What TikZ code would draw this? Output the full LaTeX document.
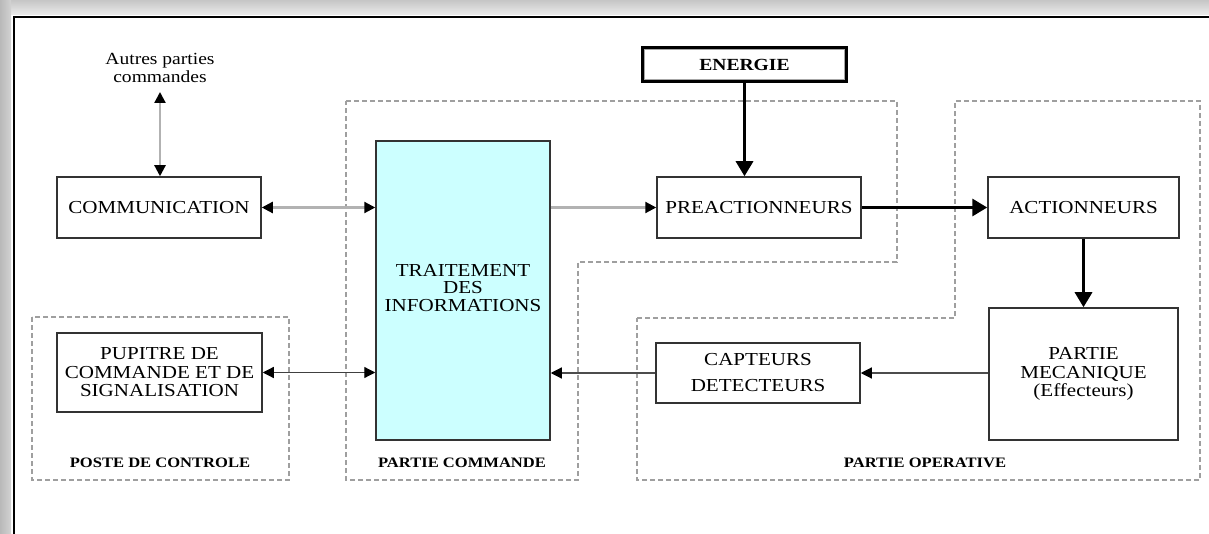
\documentclass[tikz,border=0pt]{standalone}
\usepackage{fontspec}
\setmainfont{Liberation Serif}[FakeStretch=1.15]
\usetikzlibrary{arrows.meta,positioning}
\definecolor{cyanfill}{HTML}{CCFFFF}
\tikzset{
  box/.style={draw=black!80, line width=1.5pt, fill=white, align=center, inner sep=0pt,
    font=\fontsize{18.3}{18.5}\selectfont},
  zone/.style={draw=gray!75, line width=1.6pt, dash pattern=on 5pt off 3pt},
  lab/.style={font=\bfseries\fontsize{14.4}{16}\selectfont, inner sep=0pt},
  grayconn/.style={draw=gray!60, line width=2.2pt},
  tip/.style={-{Triangle[length=11pt,width=11pt,color=black]}},
  dtip/.style={{Triangle[length=11pt,width=11pt,color=black]}-{Triangle[length=11pt,width=11pt,color=black]}},
  fat/.style={draw=black, line width=3.2pt, -{Triangle[length=15pt,width=17pt]}}
}
\begin{document}
\begin{tikzpicture}[x=1pt,y=-1pt]
\useasboundingbox (0,0) rectangle (1209,534);
% background frame and shadow
\fill[white] (0,0) rectangle (1209,534);
\shade[top color=gray!45, bottom color=gray!15] (0,0) rectangle (1209,15);
\shade[left color=gray!55, right color=gray!35] (0,0) rectangle (11,534);
\draw[black, line width=1.5pt] (14,540) -- (14,17) -- (1215,17);

% zones
\draw[zone] (346,101) -- (897,101) -- (897,262) -- (578,262) -- (578,480) -- (346,480) -- cycle;
\draw[zone] (32,317) rectangle (289,480);
\draw[zone] (637,318) -- (955,318) -- (955,101) -- (1200,101) -- (1200,480) -- (637,480) -- cycle;

% zone labels
\node[lab] (lpc) at (160,463) {POSTE DE CONTROLE};
\node[lab] (lcmd) at (462,463) {PARTIE COMMANDE};
\node[lab] (lop) at (925,463) {PARTIE OPERATIVE};

% nodes
\node[font=\fontsize{17}{18}\selectfont, align=center, inner sep=0pt] (autres) at (160,68) {Autres parties\\commandes};
\node[box, minimum width=204pt, minimum height=61pt] (comm) at (159,207.5) {COMMUNICATION};
\node[box, minimum width=205pt, minimum height=79pt] (pup) at (159.5,372.5) {PUPITRE DE\\COMMANDE ET DE\\SIGNALISATION};
\node[box, fill=cyanfill, minimum width=174pt, minimum height=299pt] (trait) at (463,290.5) {};
\node[align=center, inner sep=0pt, font=\fontsize{18.3}{17.5}\selectfont] (traittxt) at (463,288) {TRAITEMENT\\DES\\INFORMATIONS};
\node[draw=black, line width=4.5pt, fill=white, minimum width=203pt, minimum height=33pt, inner sep=0pt,
  font=\bfseries\fontsize{17}{19}\selectfont] (ener) at (744.5,64.5) {ENERGIE};
\draw[gray!70, line width=1pt] ([shift={(3.5,3.5)}]ener.north west) rectangle ([shift={(-3.5,-3.5)}]ener.south east);
\node[box, minimum width=204pt, minimum height=61pt] (pre) at (759,207.5) {PREACTIONNEURS};
\node[box, minimum width=191pt, minimum height=61pt] (act) at (1083.5,207.5) {ACTIONNEURS};
\node[box, minimum width=189pt, minimum height=132pt] (meca) at (1083.5,374) {PARTIE\\MECANIQUE\\(Effecteurs)};
\node[box, minimum width=204pt, minimum height=60pt, font=\fontsize{18.3}{26}\selectfont] (capt) at (758,373) {CAPTEURS\\DETECTEURS};

% connectors
\coordinate (aut) at (160,92);
\draw[grayconn, dtip] (aut) -- (aut |- comm.north);
\draw[grayconn, dtip] (comm.east) -- (comm.east -| trait.west);
\draw[draw=black!75, line width=1.2pt, dtip] (pup.east) -- (pup.east -| trait.west);
\draw[grayconn, tip] (trait.east |- pre.west) -- (pre.west);
\draw[fat] (ener.south) -- (ener.south |- pre.north);
\draw[fat] (pre.east) -- (act.west);
\draw[fat] (act.south) -- (meca.north);
\draw[draw=black!70, line width=1.2pt, tip] (meca.west |- capt.east) -- (capt.east);
\draw[draw=black!70, line width=1.2pt, tip] (capt.west) -- (capt.west -| trait.east);
\end{tikzpicture}
\end{document}
